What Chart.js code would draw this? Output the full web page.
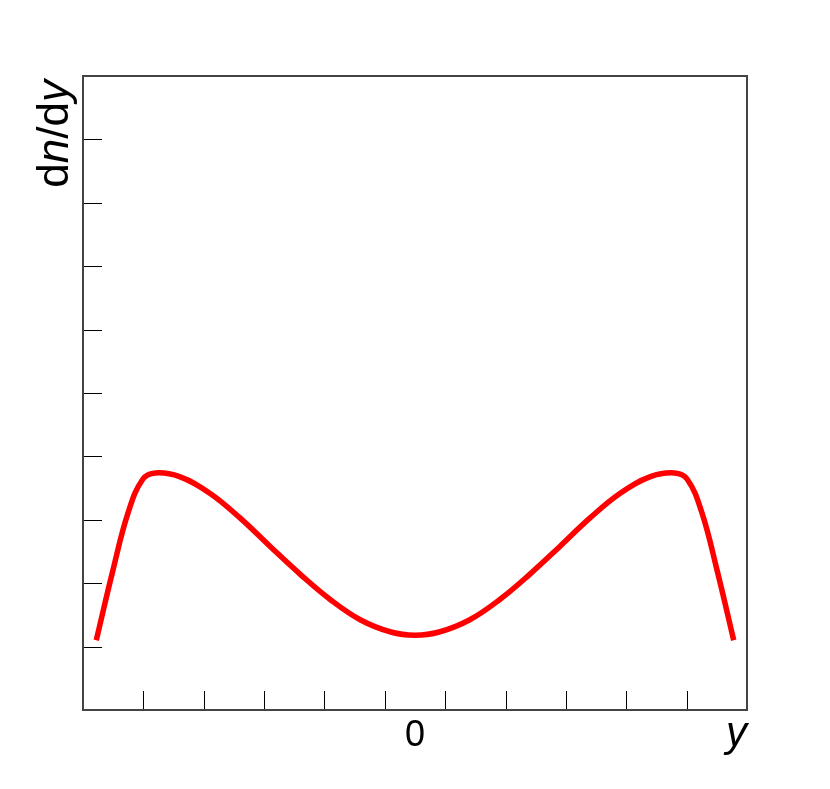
<!DOCTYPE html>
<html>
<head>
<meta charset="utf-8">
<script src="https://cdn.jsdelivr.net/npm/chart.js@4"></script>
<style>
    html, body { margin: 0; padding: 0; background: #fff; }
    #wrap { width: 830px; height: 789px; }
</style>
</head>
<body>
<div id="wrap"><canvas id="chart" width="830" height="789"></canvas></div>
<script>
// -----------------------------
// Data
// -----------------------------
const rapidity = [-5.28, -5.0, -4.75, -4.51, -4.3, -3.9, -3.4, -2.9, -2.4, -1.9, -1.4, -0.9, -0.4, 0,
                  0.4, 0.9, 1.4, 1.9, 2.4, 2.9, 3.4, 3.9, 4.3, 4.51, 4.75, 5.0, 5.28];
const dndy = [1.10, 2.22, 3.12, 3.64, 3.74, 3.68, 3.42, 3.03, 2.58, 2.14, 1.74, 1.42, 1.23, 1.18,
              1.23, 1.42, 1.74, 2.14, 2.58, 3.03, 3.42, 3.68, 3.74, 3.64, 3.12, 2.22, 1.10];

const xTicks = [-4.5, -3.5, -2.5, -1.5, -0.5, 0.5, 1.5, 2.5, 3.5, 4.5];
const yTicks = [1, 2, 3, 4, 5, 6, 7, 8, 9];
const xLabelValues = [0];
const xLabelTexts = ['0'];

// -----------------------------
// Frame, ticks and titles drawn inside the plot (ROOT style)
// -----------------------------
const framePlugin = {
    id: 'frame',
    afterDraw(chart) {
        const { ctx, chartArea: a, scales: { x, y } } = chart;
        ctx.save();

        // ticks
        ctx.strokeStyle = '#000';
        ctx.lineWidth = 1;
        ctx.beginPath();
        xTicks.forEach(v => {
            const px = Math.round(x.getPixelForValue(v)) + 0.5;
            ctx.moveTo(px, a.bottom);
            ctx.lineTo(px, a.bottom - 19);
        });
        yTicks.forEach(v => {
            const py = Math.round(y.getPixelForValue(v)) + 0.5;
            ctx.moveTo(a.left, py);
            ctx.lineTo(a.left + 19, py);
        });
        ctx.stroke();

        // frame
        ctx.strokeStyle = '#444';
        ctx.lineWidth = 2;
        ctx.strokeRect(a.left, a.top, a.right - a.left, a.bottom - a.top);

        // x labels
        ctx.fillStyle = '#000';
        ctx.font = '36px "Liberation Sans", Arial, sans-serif';
        ctx.textAlign = 'center';
        ctx.textBaseline = 'alphabetic';
        xLabelValues.forEach((v, i) => {
            ctx.fillText(xLabelTexts[i], x.getPixelForValue(v), 746);
        });

        // x title
        ctx.font = 'italic 42px "Liberation Sans", Arial, sans-serif';
        ctx.textAlign = 'right';
        ctx.fillText('y', a.right, 746);

        // y title: d n / d y, with n and y in italic
        const parts = [['d', false], ['n', true], ['/d', false], ['y', true]];
        const fontFor = it => (it ? 'italic ' : '') + '44px "Liberation Sans", Arial, sans-serif';
        let total = 0;
        parts.forEach(([t, it]) => { ctx.font = fontFor(it); total += ctx.measureText(t).width; });
        ctx.translate(68, a.top + 4);
        ctx.rotate(-Math.PI / 2);
        ctx.textAlign = 'left';
        let cx = -total;
        parts.forEach(([t, it]) => {
            ctx.font = fontFor(it);
            ctx.fillText(t, cx, 0);
            cx += ctx.measureText(t).width;
        });

        ctx.restore();
    }
};

// -----------------------------
// Chart
// -----------------------------
new Chart(document.getElementById('chart').getContext('2d'), {
    type: 'scatter',
    data: {
        datasets: [{
            data: rapidity.map((v, i) => ({ x: v, y: dndy[i] })),
            showLine: true,
            borderColor: '#ff0000',
            borderWidth: 5.5,
            pointRadius: 0,
            tension: 0.4,
            fill: false,
        }]
    },
    options: {
        responsive: false,
        animation: false,
        layout: { padding: { left: 83, top: 76, right: 83, bottom: 79 } },
        plugins: { legend: { display: false }, tooltip: { enabled: false } },
        scales: {
            x: { type: 'linear', min: -5.5, max: 5.5, display: false },
            y: { type: 'linear', min: 0, max: 10, display: false }
        }
    },
    plugins: [framePlugin]
});
</script>
</body>
</html>
